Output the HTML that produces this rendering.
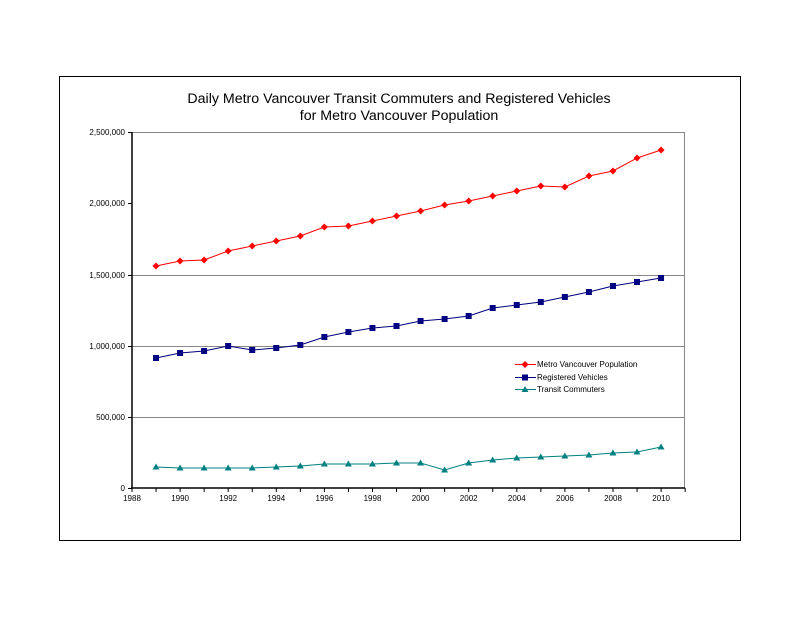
<!DOCTYPE html>
<html><head><meta charset="utf-8"><style>body{margin:0;background:#fff}</style></head><body>
<svg width="800" height="618" xmlns="http://www.w3.org/2000/svg" font-family="Liberation Sans, sans-serif">
<rect x="59.5" y="76.5" width="681" height="464" fill="#fff" stroke="#000"/>
<text x="399" y="103" font-size="14.2" text-anchor="middle">Daily Metro Vancouver Transit Commuters and Registered Vehicles</text>
<text x="399" y="120" font-size="14.2" text-anchor="middle">for Metro Vancouver Population</text>
<g stroke="#888" stroke-width="1">
<line x1="132" y1="132.5" x2="685" y2="132.5"/>
<line x1="132" y1="275.5" x2="685" y2="275.5"/>
<line x1="132" y1="346.5" x2="685" y2="346.5"/>
<line x1="132" y1="417.5" x2="685" y2="417.5"/>
<line x1="684.5" y1="132" x2="684.5" y2="488"/>
</g>
<g stroke="#000" stroke-width="1.5">
<line x1="132" y1="132" x2="132" y2="489"/>
<line x1="131" y1="488" x2="685" y2="488"/>
</g>
<g stroke="#000" stroke-width="1">
<line x1="128" y1="132.5" x2="132" y2="132.5"/><line x1="128" y1="203.5" x2="132" y2="203.5"/><line x1="128" y1="275.5" x2="132" y2="275.5"/><line x1="128" y1="346.5" x2="132" y2="346.5"/><line x1="128" y1="417.5" x2="132" y2="417.5"/><line x1="128" y1="488.5" x2="132" y2="488.5"/>
</g>
<g font-size="8" text-anchor="end">
<text x="125" y="135">2,500,000</text><text x="125" y="206">2,000,000</text><text x="125" y="278">1,500,000</text><text x="125" y="349">1,000,000</text><text x="125" y="420">500,000</text><text x="125" y="491">0</text>
</g>
<g id="xt" font-size="8" text-anchor="middle"></g>
<script>
var xt=document.getElementById('xt'),ns='http://www.w3.org/2000/svg',svg=xt.parentNode;
for(var y=1988;y<=2010;y+=2){var x=132+(y-1988)*24.05;var t=document.createElementNS(ns,'text');t.setAttribute('x',x);t.setAttribute('y',501);t.textContent=y;xt.appendChild(t);}
for(var y=1988;y<=2011;y++){var x=132+(y-1988)*24.05;var l=document.createElementNS(ns,'line');l.setAttribute('x1',x);l.setAttribute('x2',x);l.setAttribute('y1',488);l.setAttribute('y2',492);l.setAttribute('stroke','#000');svg.appendChild(l);}
var pop=[266,261,260,251,246,241,236,227,226,221,216,211,205,201,196,191,186,187,176,171,158,150];
var veh=[358,353,351,346,350,348,345,337,332,328,326,321,319,316,308,305,302,297,292,286,282,278];
var tr=[467,468,468,468,468,467,466,464,464,464,463,463,470,463,460,458,457,456,455,453,452,447];
function series(d,c,m){var p=d.map(function(v,i){return (156+i*24.05)+','+v}).join(' ');var pl=document.createElementNS(ns,'polyline');pl.setAttribute('points',p);pl.setAttribute('fill','none');pl.setAttribute('stroke',c);pl.setAttribute('stroke-width','1');svg.appendChild(pl);
d.forEach(function(v,i){var x=156+i*24.05,e;if(m=='d'){e=document.createElementNS(ns,'polygon');e.setAttribute('points',x+','+(v-3.5)+' '+(x+3.5)+','+v+' '+x+','+(v+3.5)+' '+(x-3.5)+','+v);}else if(m=='s'){e=document.createElementNS(ns,'rect');e.setAttribute('x',x-3);e.setAttribute('y',v-3);e.setAttribute('width',6);e.setAttribute('height',6);}else{e=document.createElementNS(ns,'polygon');e.setAttribute('points',x+','+(v-3.5)+' '+(x+3.5)+','+(v+2.5)+' '+(x-3.5)+','+(v+2.5));}e.setAttribute('fill',c);svg.appendChild(e);});}
series(pop,'#ff0000','d');series(veh,'#000080','s');series(tr,'#008080','t');
</script>
<g font-size="8">
<line x1="515" y1="364.5" x2="536" y2="364.5" stroke="#f00"/><polygon points="525,361 528.5,364.5 525,368 521.5,364.5" fill="#f00"/>
<text x="537" y="367">Metro Vancouver Population</text>
<line x1="515" y1="377.5" x2="536" y2="377.5" stroke="#000080"/><rect x="522" y="374.5" width="6" height="6" fill="#000080"/>
<text x="537" y="380">Registered Vehicles</text>
<line x1="515" y1="389.5" x2="536" y2="389.5" stroke="#008080"/><polygon points="525,386 528.5,392 521.5,392" fill="#008080"/>
<text x="537" y="392">Transit Commuters</text>
</g>
</svg>
</body></html>
